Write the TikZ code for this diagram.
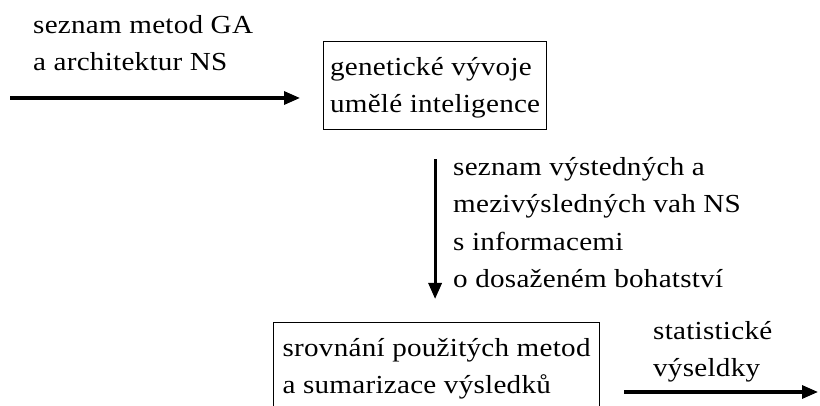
\documentclass[tikz,border=0pt]{standalone}
\usepackage{fontspec}
\setmainfont{Liberation Serif}[FakeStretch=1.12,LetterSpace=1]
\usetikzlibrary{arrows.meta}

\begin{document}
\begin{tikzpicture}[x=1pt,y=-1pt,>={Triangle[length=16pt,width=13pt]}]
 \tikzstyle{blok} = [draw,line width=1.2pt,inner sep=0,text height=71pt,text depth=17pt,anchor=north west,align=left,font=\fontsize{26}{37.5}\selectfont]
 \tikzstyle{popis} = [anchor=base west,inner sep=0,align=left,font=\fontsize{26}{37.5}\selectfont]
 \tikzstyle{sipka} = [->,line width=3.2pt]
 \useasboundingbox (0,0) rectangle (820,406);
 \clip (0,0) rectangle (820,406);

% Boxes (placed by their top left corner)
 \node[blok,minimum width=223pt] (gen) at (323,41) {genetické vývoje\\umělé inteligence};
 \node[blok,minimum width=326pt] (srov) at (273,322) {srovnání použitých metod\\a sumarizace výsledků};

% Labels (anchored at the baseline of the last line)
 \node[popis] (vstup) at (33,71) {seznam metod GA\\a architektur NS};
 \node[popis] (vahy) at (453,288) {seznam výstedných a\\mezivýsledných vah NS\\s informacemi\\o dosaženém bohatství};
 \node[popis] (vysl) at (653,377) {statistické\\výseldky};

% Arrows
 \coordinate (in) at (10,98);
 \coordinate (out) at (818,392);
 \draw[sipka,shorten >=23pt] (in) -- (in -| gen.west);
 \draw[sipka,shorten <=29pt,shorten >=23pt] (gen.south) -- (gen.south |- srov.north);
 \draw[sipka,shorten <=24pt] (out -| srov.east) -- (out);
\end{tikzpicture}
\end{document}
